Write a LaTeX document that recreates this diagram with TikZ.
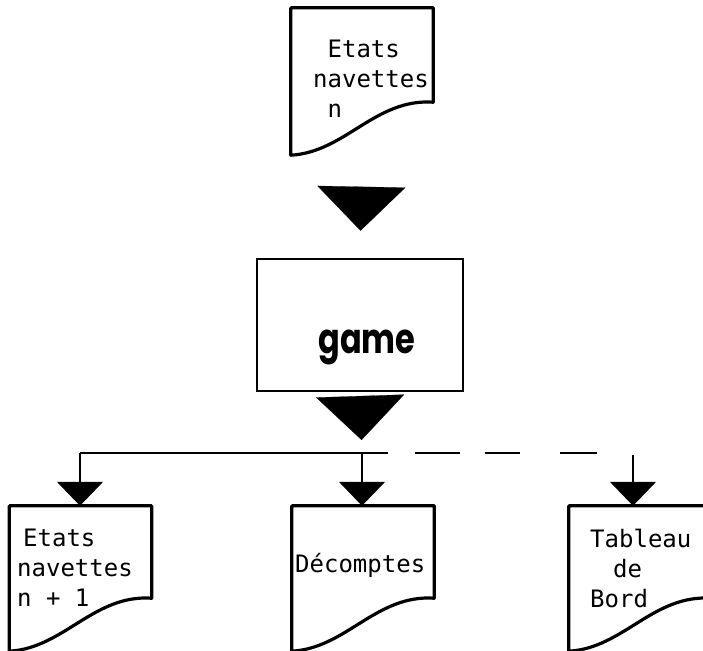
\documentclass[tikz,border=0pt]{standalone}
\usepackage{fontspec}
\setmonofont{DejaVu Sans Mono}
\newfontfamily\gamefont{Poppins}
\usepackage{graphicx}
\usepackage{tikz}
\usetikzlibrary{arrows.meta,calc}

\newcommand{\docoutline}[1]{%
  \draw[docline] (#1.north west) -- (#1.north east) -- ($(#1.south east)+(0,-53)$)
    .. controls ($(#1.south east)+(-58,-57)$) and ($(#1.south east)+(-88,-3)$) .. (#1.south west) -- cycle;}

\begin{document}
\begin{tikzpicture}[x=1pt,y=-1pt,
  docbox/.style={minimum width=142pt,minimum height=147pt,inner sep=0pt},
  docline/.style={black,line width=3.2pt,line join=round},
  doctext/.style={font=\fontsize{24}{30}\selectfont\ttfamily,align=left,inner sep=0pt,anchor=west},
  procbox/.style={draw,line width=2.6pt,minimum width=206pt,minimum height=132pt,inner sep=0pt},
  gamelabel/.style={font=\gamefont\bfseries\fontsize{32}{36}\selectfont,inner sep=0pt},
  busline/.style={line width=1.4pt},
  bigflow/.style={line width=0.2pt,-{Triangle[length=44pt,width=88pt]}}]
\useasboundingbox (0,0) rectangle (703,650);
\clip (0,0) rectangle (703,650);
\begin{scope}[>={Triangle[length=24pt,width=46pt]}]
    \node[docbox] (etatsn) at (362,81.5) {};
    \docoutline{etatsn}
    \node[doctext] (etatsntxt) at (313,79) {\hphantom{n}Etats\\navettes\\\hphantom{n}n};

    \node[procbox] (game) at (360,325) {};
    \node[gamelabel] (gametxt) at (367,347) {\scalebox{1}[1.3]{game}};

    \draw[bigflow,shorten <=33pt,shorten >=27pt] (etatsn.south) -- (game.north);

    \coordinate (busl) at (80,453);
    \coordinate (busm) at (362,453);
    \coordinate (busr) at (633,455);
    \coordinate (dashs) at (388,453);
    \coordinate (dashe) at (597,453);

    \draw[bigflow,shorten <=7pt,shorten >=13pt] (game.south) -- (busm);

    \draw[busline] (busl) -- (dashs);
    \draw[busline,dash pattern=on 0pt off 27pt on 45pt off 25pt on 35pt off 40pt on 37pt] (dashs) -- (dashe);

    \node[docbox,minimum height=145pt] (etatsn1) at (80.5,578.5) {};
    \docoutline{etatsn1}
    \node[doctext] (etatsn1txt) at (17,568) {\hspace{6pt}Etats\\navettes\\n + 1};

    \node[docbox,minimum height=145pt] (decomptes) at (363,578.5) {};
    \docoutline{decomptes}
    \node[doctext,anchor=base west] (decomptestxt) at (295,572) {Décomptes};

    \node[docbox,minimum height=145pt] (tableau) at (640,578.5) {};
    \docoutline{tableau}
    \node[doctext] (tableautxt) at (590,568) {Tableau\\\hspace{23pt}de\\Bord};

    \draw[busline,->] (busl) -- (busl |- etatsn1.north);
    \draw[busline,->] (busm) -- (busm |- decomptes.north);
    \draw[busline,->] (busr) -- (busr |- tableau.north);
\end{scope}
\end{tikzpicture}
\end{document}
